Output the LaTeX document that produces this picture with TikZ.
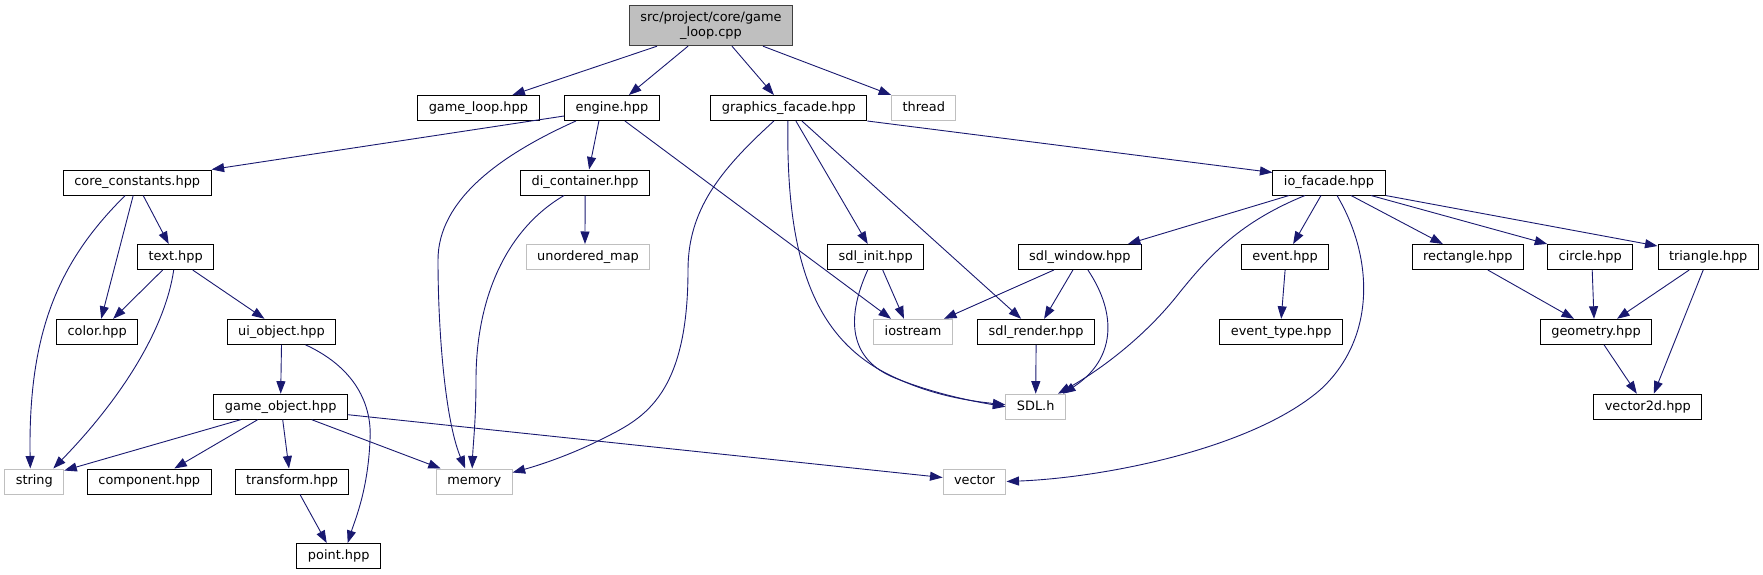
\documentclass[tikz,border=0pt]{standalone}
\usepackage{fontspec}
\setmainfont{DejaVu Sans}
\usetikzlibrary{arrows.meta}
\definecolor{edgeblue}{HTML}{191970}
\definecolor{sysgray}{HTML}{BFBFBF}

\begin{document}
\begin{tikzpicture}[x=1pt,y=-1pt,
  box/.style={draw=black,fill=white,line width=1pt,inner xsep=11pt,inner ysep=0pt,
    font=\fontsize{12.9}{15}\selectfont},
  file/.style={box,minimum height=25pt,text height=9.6pt,text depth=2.8pt},
  sys/.style={file,draw=sysgray},
  dep/.style={draw=edgeblue,line width=0.9pt,-{Triangle[length=12.5pt,width=9pt]}}]
\useasboundingbox (0,0) rectangle (1763,575);

\node[box,fill=sysgray,draw=black!75,align=center,minimum height=40pt] (root) at (711,25.7) {src/project/core/game\\\_loop.cpp};

\node[file] (gameloop) at (478.4,108) {game\_loop.hpp};
\node[file] (engine) at (611.9,108) {engine.hpp};
\node[file] (gfx) at (788.9,108) {graphics\_facade.hpp};
\node[sys] (thread) at (923.8,108) {thread};

\node[file] (consts) at (137.2,182.5) {core\_constants.hpp};
\node[file] (dic) at (585.1,182.5) {di\_container.hpp};
\node[file] (iofac) at (1329,182.5) {io\_facade.hpp};

\node[file] (txt) at (175.7,257) {text.hpp};
\node[sys] (umap) at (588,257) {unordered\_map};
\node[file] (sdlinit) at (875.7,257) {sdl\_init.hpp};
\node[file] (sdlwin) at (1079.9,257) {sdl\_window.hpp};
\node[file] (event) at (1285.1,257) {event.hpp};
\node[file] (rect) at (1467.8,257) {rectangle.hpp};
\node[file] (circ) at (1590.2,257) {circle.hpp};
\node[file] (tri) at (1708.2,257) {triangle.hpp};

\node[file] (color) at (97.2,331.8) {color.hpp};
\node[file] (uiobj) at (281.5,331.8) {ui\_object.hpp};
\node[sys] (iostream) at (913,331.8) {iostream};
\node[file] (sdlrender) at (1036.1,331.8) {sdl\_render.hpp};
\node[file] (evtype) at (1281.2,331.8) {event\_type.hpp};
\node[file] (geom) at (1596,331.8) {geometry.hpp};

\node[file] (gameobj) at (280.7,406.7) {game\_object.hpp};
\node[sys] (sdlh) at (1035.7,406.7) {SDL.h};
\node[file] (vec2d) at (1647.8,406.7) {vector2d.hpp};

\node[sys] (string) at (34.3,481.5) {string};
\node[file] (comp) at (149.3,481.5) {component.hpp};
\node[file] (transform) at (292,481.5) {transform.hpp};
\node[sys] (memory) at (474.2,481.5) {memory};
\node[sys] (vector) at (974.5,481.5) {vector};

\node[file] (point) at (338.7,556) {point.hpp};

\draw[dep] ([xshift=-54pt]root.south) -- ([xshift=34pt]gameloop.north);
\draw[dep] ([xshift=-23pt]root.south) -- ([xshift=17pt]engine.north);
\draw[dep] ([xshift=21pt]root.south) -- ([xshift=-15pt]gfx.north);
\draw[dep] ([xshift=52pt]root.south) -- (thread.north west);

\draw[dep] ([yshift=-8pt]engine.west) -- (consts.north east);
\draw[dep] ([xshift=-13pt]engine.south) -- ([xshift=4pt]dic.north);
\draw[dep] ([xshift=13pt]engine.south) -- ([xshift=-22pt]iostream.north);
\draw[dep] ([xshift=-36pt]engine.south) .. controls (500,155) and (438,200) .. (438,260)
  .. controls (438,330) and (445,420) .. ([xshift=-9pt]memory.north);

\draw[dep] ([xshift=-15pt]gfx.south) .. controls (720,170) and (688,210) .. (688,270)
  .. controls (688,400) and (640,420) .. (600,440)
  .. controls (570,455) and (540,465) .. ([yshift=9pt]memory.east);
\draw[dep] ([xshift=-1pt]gfx.south) .. controls (786,250) and (810,330) .. (880,370)
  .. controls (920,392) and (960,400) .. ([yshift=2pt]sdlh.west);
\draw[dep] ([xshift=7pt]gfx.south) -- ([xshift=-8pt]sdlinit.north);
\draw[dep] ([xshift=13pt]gfx.south) -- ([xshift=-15pt]sdlrender.north);
\draw[dep] (gfx.south east) -- ([yshift=-3pt]iofac.north west);

\draw[dep] ([xshift=-12pt]consts.south) .. controls (60,260) and (28,330) .. ([xshift=-4pt]string.north);
\draw[dep] ([xshift=-4pt]consts.south) -- ([xshift=4pt]color.north);
\draw[dep] ([xshift=6pt]consts.south) -- ([xshift=-7pt]txt.north);

\draw[dep] (dic.south) -- ([xshift=-3pt]umap.north);
\draw[dep] ([xshift=-21pt]dic.south) .. controls (505,230) and (476,300) .. (476,380)
  .. controls (476,420) and (473,445) .. ([xshift=-2pt]memory.north);

\draw[dep] ([xshift=-13pt]txt.south) -- ([xshift=16pt]color.north);
\draw[dep] ([xshift=-2pt]txt.south) .. controls (165,330) and (120,400) .. ([xshift=19pt]string.north);
\draw[dep] ([xshift=17pt]txt.south) -- ([xshift=-17pt]uiobj.north);

\draw[dep] (uiobj.south) -- (gameobj.north);
\draw[dep] ([xshift=24pt]uiobj.south) .. controls (360,370) and (372,410) .. (370,440)
  .. controls (368,490) and (355,520) .. ([xshift=9pt]point.north);

\draw[dep] ([xshift=-40pt]gameobj.south) -- ([yshift=-2pt]string.north east);
\draw[dep] ([xshift=-23pt]gameobj.south) -- ([xshift=25pt]comp.north);
\draw[dep] ([xshift=2pt]gameobj.south) -- ([xshift=-3pt]transform.north);
\draw[dep] ([xshift=31pt]gameobj.south) -- ([xshift=5pt]memory.north west);
\draw[dep] ([yshift=-8pt]gameobj.east) -- ([yshift=4pt]vector.west);

\draw[dep] ([xshift=8pt]transform.south) -- ([xshift=-12pt]point.north);

\draw[dep] ([xshift=7pt]sdlinit.south) -- ([xshift=-9pt]iostream.north);
\draw[dep] ([xshift=-8pt]sdlinit.south) .. controls (845,320) and (850,360) .. (895,378)
  .. controls (930,392) and (965,400) .. (sdlh.west);

\draw[dep] ([xshift=-26pt]sdlwin.south) -- ([xshift=31pt]iostream.north);
\draw[dep] ([xshift=-7pt]sdlwin.south) -- ([xshift=8pt]sdlrender.north);
\draw[dep] ([xshift=8pt]sdlwin.south) .. controls (1118,315) and (1115,360) .. ([xshift=-3pt]sdlh.north east);

\draw[dep] (sdlrender.south) -- (sdlh.north);

\draw[dep] ([xshift=-40pt]iofac.south) -- ([xshift=48pt]sdlwin.north);
\draw[dep] ([xshift=-24pt]iofac.south) .. controls (1240,222) and (1210,255) .. (1180,292)
  .. controls (1145,337) and (1100,370) .. ([xshift=-8pt]sdlh.north east);
\draw[dep] ([xshift=-8pt]iofac.south) -- ([xshift=8pt]event.north);
\draw[dep] ([xshift=8pt]iofac.south) .. controls (1375,260) and (1375,340) .. (1320,390)
  .. controls (1250,450) and (1100,478) .. (vector.east);
\draw[dep] ([xshift=22pt]iofac.south) -- ([xshift=-25pt]rect.north);
\draw[dep] ([xshift=42pt]iofac.south) -- (circ.north west);
\draw[dep] (iofac.south east) -- ([yshift=-2pt]tri.north west);

\draw[dep] (event.south) -- (evtype.north);

\draw[dep] ([xshift=20pt]rect.south) -- ([xshift=-22pt]geom.north);
\draw[dep] ([xshift=2pt]circ.south) -- ([xshift=-2pt]geom.north);
\draw[dep] ([xshift=-19pt]tri.south) -- ([xshift=21pt]geom.north);
\draw[dep] ([xshift=-5pt]tri.south) -- ([xshift=6pt]vec2d.north);
\draw[dep] ([xshift=8pt]geom.south) -- ([xshift=-11pt]vec2d.north);
\end{tikzpicture}
\end{document}
